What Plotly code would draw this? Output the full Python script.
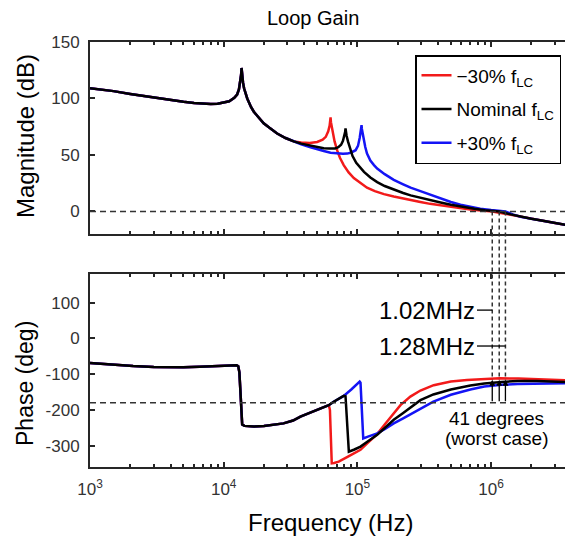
import math
import plotly.graph_objects as go

# ---------------- data ----------------
# Loop-gain magnitude shared by all three LC cases below ~38 kHz
freq_mag_common = [1000, 1500, 2000, 3000, 4000, 5000, 6000, 7000, 8000, 9000, 10000,
                   11000, 12000, 12600, 13000, 13300, 13500, 13600, 13750, 13950, 14200,
                   14600, 15000, 16000, 16800, 18000, 19900, 22000, 25100, 29000, 33400]
mag_common = [109, 106.5, 104, 100.7, 98.5, 97, 96, 95.4, 95.2, 95.4, 96.3,
              97.5, 100.5, 103.5, 108, 114, 121, 127, 120, 114, 109,
              104.5, 100, 92.5, 88.3, 84, 78, 74, 69, 65, 62]

# Magnitude above ~38 kHz for each case
freq_mag_minus = [38000, 44000, 50000, 55000, 58000, 60500, 62000, 62600, 63000, 63400,
                  64200, 65500, 67500, 70600, 74000, 79000, 86000, 94000, 105000,
                  118000, 135000, 158000, 187000, 210000, 250000, 296000, 350000,
                  419000, 500000, 590000, 700000, 800000, 1020000, 1300000]
mag_minus = [61, 60.5, 61.5, 63.5, 66, 71, 76, 79.5, 83.3, 79,
             75, 69.5, 62, 54, 47.5, 41, 34.5, 29.5, 25,
             21, 18, 15.3, 13.2, 11.8, 9.8, 8.3, 6.7,
             5.2, 3.8, 2.6, 1.6, 1.0, 0, -2.2]

freq_mag_nom = [38000, 44000, 50000, 56000, 62000, 68000, 72000, 75500, 78000, 80000,
                81000, 81500, 82000, 83000, 85000, 88000, 92000, 98000, 105000, 112000,
                125000, 140600, 160000, 187000, 220000, 250000, 296000, 350000, 419000,
                500000, 590000, 750000, 900000, 1150000, 1400000]
mag_nom = [60, 58.3, 57, 56, 55.6, 55.7, 56.8, 59, 62.5, 67,
           70.5, 73.5, 70.5, 67, 62, 55.5, 49, 43, 38.5, 35,
           30, 26, 22.5, 19.2, 16.3, 14.2, 12, 9.9, 7.9,
           5.9, 4.2, 2.3, 1.1, 0, -2.6]

freq_mag_plus = [38000, 44000, 50000, 56000, 63000, 70000, 78000, 84000, 90000, 97000,
                 101000, 104000, 106000, 106800, 107400, 108000, 109000, 111700, 114500,
                 118000, 125000, 133000, 140600, 160000, 187000, 220000, 250000, 296000,
                 350000, 419000, 500000, 590000, 700000, 830000, 1000000, 1280000, 1450000]
mag_plus = [59.5, 57, 55.5, 53.5, 52, 51.2, 51, 51.2, 52.2, 54.2,
            58, 65, 71, 73.5, 76.4, 73, 70, 63, 57,
            51.3, 45, 41, 38, 33, 28, 24, 21, 18,
            14.8, 11.5, 8.4, 5.9, 3.9, 2.4, 1.2, 0, -2.6]

# Magnitude above ~1.6 MHz, shared by all cases
freq_mag_tail = [1660000, 2000000, 2500000, 3000000, 3600000]
mag_tail = [-4.7, -6.5, -8.5, -10.2, -11.8]

# Loop-gain phase shared by all three cases below ~61 kHz
freq_ph_common = [1000, 1500, 2100, 3000, 3750, 5000, 6600, 9000, 11900, 12500,
                  12850, 13100, 13300, 13450, 13600, 13750, 14300, 15500, 16800,
                  20000, 24000, 28000, 33000, 37500, 43000, 50000, 56000, 61100]
ph_common = [-69, -74.5, -77.5, -80, -81, -80.8, -79.5, -77, -75, -75.5,
             -78, -95, -140, -190, -230, -241, -245, -246.5, -247,
             -245.5, -242, -238, -230, -219, -210, -200.5, -193, -187]

# Phase above ~61 kHz for each case
freq_ph_minus = [62300, 63300, 64300, 67000, 72500, 85000, 105500, 120000, 140600,
                 160000, 187000, 210000, 249000, 296000, 372000, 500000, 660000,
                 900000, 1160000, 1600000, 2300000, 3600000]
ph_minus = [-200, -300, -350, -349, -345, -331, -312, -292, -268,
            -241, -210, -187, -163, -146, -131, -121, -116.5,
            -113.5, -112, -112.5, -114.5, -117]

freq_ph_nom = [66000, 72000, 79000, 81500, 82700, 84500, 86300, 95000, 105500, 120000,
               140600, 160000, 187000, 220000, 249000, 296000, 370000, 500000,
               700000, 890000, 1200000, 1580000, 2200000, 3600000]
ph_nom = [-178, -170, -161, -162, -200, -280, -317, -311, -303, -288,
          -270, -251, -228, -209, -193, -173, -157, -143,
          -132, -126.5, -122, -119.5, -119.5, -122]

freq_ph_plus = [66000, 72000, 79000, 90000, 98000, 104000, 105500, 107400, 109000,
                110600, 120000, 140600, 160000, 187000, 220000, 249000, 296000,
                370000, 500000, 700000, 890000, 1200000, 1580000, 2200000, 3600000]
ph_plus = [-178, -170, -161, -143, -131, -121, -124, -190, -250,
           -280, -275, -266, -254, -238, -224, -212.5, -196,
           -177, -158, -143, -135, -130, -128, -126.5, -126]

# Crossover frequencies (Hz) and phase at the arrow tips
crossover_freqs = [1.02e6, 1.15e6, 1.28e6]
arrow_tip_phase = -116
phase_ref = -180

# Axis ticks
mag_ticks = [0, 50, 100, 150]
phase_ticks = [-300, -200, -100, 0, 100]
phase_ticktext = ["-300", "-200", "-100", "0", "100"]
decade_ticks = [1e3, 1e4, 1e5, 1e6]
decade_text = ["10<sup>3</sup>", "10<sup>4</sup>", "10<sup>5</sup>", "10<sup>6</sup>"]
minor_ticks = [m * d for d in [1e3, 1e4, 1e5, 1e6] for m in range(2, 10)]

series = [
    # name, colour, legend rank, magnitude part, phase part
    ("\u221230% f<sub>LC</sub>", "#f21a1a", 1, freq_mag_minus, mag_minus, freq_ph_minus, ph_minus),
    ("+30% f<sub>LC</sub>", "#1414f5", 3, freq_mag_plus, mag_plus, freq_ph_plus, ph_plus),
    ("Nominal f<sub>LC</sub>", "#000000", 2, freq_mag_nom, mag_nom, freq_ph_nom, ph_nom),
]

# ---------------- figure ----------------
FONT = "Liberation Sans, Arial, sans-serif"
AXC = "#262626"
W, H = 565, 539
M_L, M_R, M_T, M_B = 90, 0, 42, 72
X_RANGE = [3, 3 + (W - M_L - M_R) / 133.7]
MAG_DOMAIN = [0.5482, 1.0]
PH_DOMAIN = [0.0, 0.4541]
MAG_RANGE = [-20, 150]
PH_RANGE = [-360, 180]

fig = go.Figure()
for name, color, rank, fm, m, fp, p in series:
    fig.add_trace(go.Scatter(
        x=freq_mag_common + fm + freq_mag_tail, y=mag_common + m + mag_tail,
        xaxis="x", yaxis="y", mode="lines", name=name, legendgroup=name,
        legendrank=rank, line=dict(color=color, width=2.5)))
    fig.add_trace(go.Scatter(
        x=freq_ph_common + fp, y=ph_common + p,
        xaxis="x2", yaxis="y2", mode="lines", name=name, legendgroup=name,
        showlegend=False, line=dict(color=color, width=2.5)))

base_axis = dict(showline=True, linewidth=2, linecolor=AXC, showgrid=False,
                 zeroline=False, ticks="inside", ticklen=5, tickwidth=1.5,
                 tickcolor=AXC, tickfont=dict(family=FONT, size=17, color="#333333"))
x_axis = dict(type="log", range=X_RANGE, tickmode="array", tickvals=decade_ticks,
              ticktext=decade_text, mirror="ticks",
              minor=dict(ticks="inside", ticklen=3, tickwidth=1.5, tickcolor=AXC,
                         tickvals=minor_ticks, showgrid=False))

fig.update_layout(
    width=W, height=H, margin=dict(l=M_L, r=M_R, t=M_T, b=M_B),
    paper_bgcolor="white", plot_bgcolor="white",
    xaxis=dict(**base_axis, **x_axis, anchor="y", showticklabels=False),
    yaxis=dict(**base_axis, domain=MAG_DOMAIN, range=MAG_RANGE, tickvals=mag_ticks,
               anchor="x", ticklabelstandoff=5),
    xaxis2=dict(**base_axis, **x_axis, anchor="y2", ticklabelstandoff=6),
    yaxis2=dict(**base_axis, domain=PH_DOMAIN, range=PH_RANGE, tickvals=phase_ticks,
                ticktext=phase_ticktext, anchor="x2", ticklabelstandoff=5),
    showlegend=True,
    legend=dict(x=(415 - M_L) / (W - M_L - M_R), y=(H - M_B - 55) / (H - M_T - M_B),
                xanchor="left", yanchor="top", bgcolor="white",
                bordercolor="#000000", borderwidth=1.5, tracegroupgap=6,
                font=dict(family=FONT, size=19, color="#000000")),
)


def mag_to_paper(v):
    return MAG_DOMAIN[0] + (v - MAG_RANGE[0]) / (MAG_RANGE[1] - MAG_RANGE[0]) * (MAG_DOMAIN[1] - MAG_DOMAIN[0])


def ph_to_paper(v):
    return PH_DOMAIN[0] + (v - PH_RANGE[0]) / (PH_RANGE[1] - PH_RANGE[0]) * (PH_DOMAIN[1] - PH_DOMAIN[0])


shapes = [
    dict(type="line", xref="x domain", yref="y", x0=0, x1=1, y0=0, y1=0,
         line=dict(color="#333333", width=1.5, dash="6px,4px")),
    dict(type="line", xref="x2 domain", yref="y2", x0=0, x1=1, y0=phase_ref, y1=phase_ref,
         line=dict(color="#333333", width=1.5, dash="6px,4px")),
]
for f in crossover_freqs:
    shapes.append(dict(type="line", xref="x2", yref="paper", x0=f, x1=f,
                       y0=mag_to_paper(0), y1=ph_to_paper(arrow_tip_phase),
                       line=dict(color="#333333", width=1.5, dash="4px,3px")))

label_right = 10 ** (3 + (477 - M_L) / 133.7)
label_phase_1 = 79
label_phase_2 = -21.5
shapes.append(dict(type="line", xref="x2", yref="y2", x0=label_right, x1=crossover_freqs[0],
                   y0=label_phase_1, y1=label_phase_1, line=dict(color="#000000", width=1.3)))
shapes.append(dict(type="line", xref="x2", yref="y2", x0=label_right, x1=crossover_freqs[-1],
                   y0=label_phase_2, y1=label_phase_2, line=dict(color="#000000", width=1.3)))

annotations = []
for f in crossover_freqs:
    annotations.append(dict(x=math.log10(f), y=arrow_tip_phase, ax=math.log10(f), ay=phase_ref,
                            xref="x2", yref="y2", axref="x2", ayref="y2", text="",
                            showarrow=True, arrowhead=2, arrowsize=0.9, arrowwidth=1.3,
                            arrowcolor="#000000"))

txt = dict(font=dict(family=FONT, size=24, color="#000000"), showarrow=False)
annotations += [
    dict(x=math.log10(label_right), y=label_phase_1, xref="x2", yref="y2",
         xanchor="right", yanchor="middle", text="1.02MHz", **txt),
    dict(x=math.log10(label_right), y=label_phase_2, xref="x2", yref="y2",
         xanchor="right", yanchor="middle", text="1.28MHz", **txt),
    dict(x=math.log10(1.1e6), y=-223, xref="x2", yref="y2", xanchor="center",
         yanchor="middle", text="41 degrees", showarrow=False,
         font=dict(family=FONT, size=19, color="#000000")),
    dict(x=math.log10(1.1e6), y=-279, xref="x2", yref="y2", xanchor="center",
         yanchor="middle", text="(worst case)", showarrow=False,
         font=dict(family=FONT, size=19, color="#000000")),
    dict(x=(313 - M_L) / (W - M_L - M_R), y=(H - M_B - 18) / (H - M_T - M_B),
         xref="paper", yref="paper", xanchor="center", yanchor="middle",
         text="Loop Gain", showarrow=False, font=dict(family=FONT, size=20, color="#000000")),
    dict(x=(25 - M_L) / (W - M_L - M_R), y=(H - M_B - 136) / (H - M_T - M_B),
         xref="paper", yref="paper", xanchor="center", yanchor="middle", textangle=-90,
         text="Magnitude (dB)", **txt),
    dict(x=(25 - M_L) / (W - M_L - M_R), y=(H - M_B - 384) / (H - M_T - M_B),
         xref="paper", yref="paper", xanchor="center", yanchor="middle", textangle=-90,
         text="Phase (deg)", showarrow=False, font=dict(family=FONT, size=23, color="#000000")),
    dict(x=(330 - M_L) / (W - M_L - M_R), y=(H - M_B - 522) / (H - M_T - M_B),
         xref="paper", yref="paper", xanchor="center", yanchor="middle",
         text="Frequency (Hz)", **txt),
]

fig.update_layout(shapes=shapes, annotations=annotations)
fig.write_html("out.html")
